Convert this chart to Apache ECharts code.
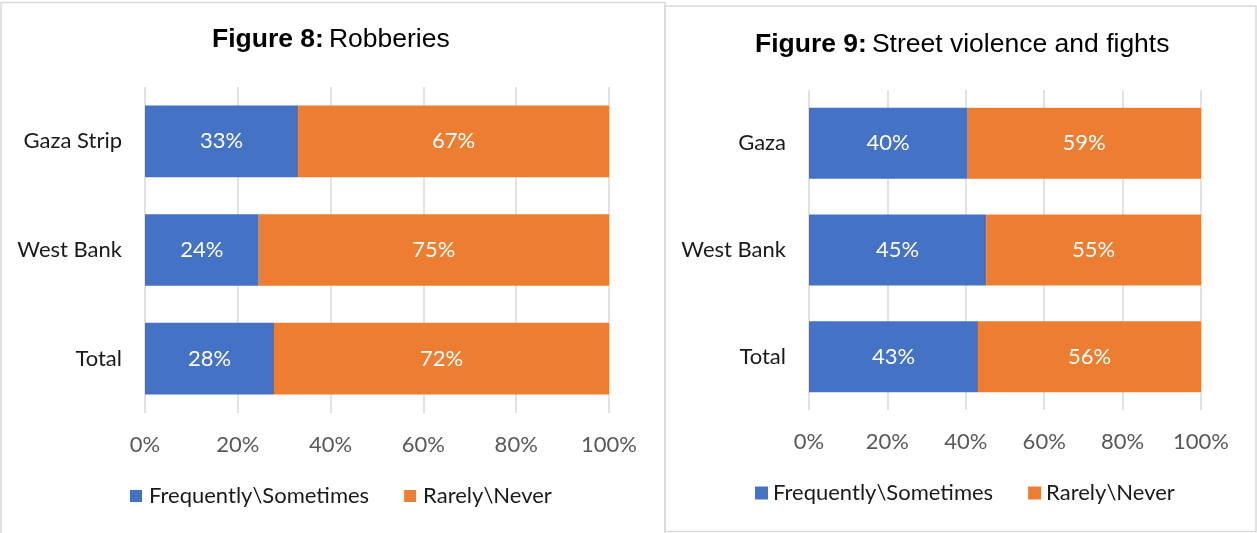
<!DOCTYPE html>
<html>
<head>
    <meta charset="utf-8">
    <title>Figure 8 / Figure 9</title>
    <script src="https://cdn.jsdelivr.net/npm/echarts@6/dist/echarts.min.js"></script>
    <style>
        html, body { margin: 0; padding: 0; background: #fff; }
        #main { width: 1257px; height: 533px; }
    </style>
</head>
<body>
<div id="main"></div>
<script>
    // Figure 8: Robberies
    var cats8 = ['Gaza Strip', 'West Bank', 'Total'];
    var freq8 = [33, 24.5, 27.8];
    var rare8 = [67, 75.5, 72.2];
    var freqLbl8 = [33, 24, 28];
    var rareLbl8 = [67, 75, 72];

    // Figure 9: Street violence and fights
    var cats9 = ['Gaza', 'West Bank', 'Total'];
    var freq9 = [40.3, 45.2, 43.1];
    var rare9 = [59.7, 54.8, 56.9];
    var freqLbl9 = [40, 45, 43];
    var rareLbl9 = [59, 55, 56];

    var seriesNames = ['Frequently\\Sometimes', 'Rarely\\Never'];
    var ticks = [0, 20, 40, 60, 80, 100];

    var BLUE = '#4472C4', ORANGE = '#ED7D31';
    var FONT = 'Lato';
    var FS = 22;

    function valueAxis(idx) {
        return {
            gridIndex: idx, type: 'value', min: 0, max: 100, interval: 20,
            axisLine: { show: false }, axisTick: { show: false },
            splitLine: { lineStyle: { color: '#d9d9d9', width: 1.5 } },
            axisLabel: {
                margin: 21, color: '#595959', fontSize: FS, fontFamily: FONT,
                formatter: function (v) { return ticks.indexOf(v) >= 0 ? v + '%' : ''; }
            }
        };
    }
    function catAxis(idx, cats) {
        return {
            gridIndex: idx, type: 'category', data: cats, inverse: true,
            axisLine: { show: false }, axisTick: { show: false },
            axisLabel: { margin: 23, color: '#1a1a1a', fontSize: FS, fontFamily: FONT }
        };
    }
    function barSeries(name, idx, stack, data, lbls, color, gap) {
        return {
            name: name, type: 'bar', stack: stack,
            xAxisIndex: idx, yAxisIndex: idx,
            data: data, barCategoryGap: gap,
            itemStyle: { color: color },
            label: {
                show: true, position: 'inside', color: '#fff', fontSize: FS, fontFamily: FONT,
                formatter: function (p) { return lbls[p.dataIndex] + '%'; }
            }
        };
    }
    function titleRich() {
        return {
            b: { fontFamily: 'Liberation Sans', fontWeight: 'bold', fontSize: 26.5, color: '#000' },
            n: { fontFamily: 'Liberation Sans', fontWeight: 'normal', fontSize: 26.5, color: '#000' }
        };
    }
    function legendOf(left, top, size, pad) {
        return {
            data: seriesNames, left: left, top: top, itemWidth: size, itemHeight: size, itemGap: 35,
            icon: 'rect', selectedMode: false,
            textStyle: { fontSize: FS, fontFamily: FONT, color: '#1a1a1a', padding: [0, 0, 0, pad] }
        };
    }

    var myChart = echarts.init(document.getElementById('main'));
    var option = {
        animation: false,
        backgroundColor: '#fff',
        graphic: [
            { type: 'rect', shape: { x: 1, y: 2.5, width: 664, height: 540 },
              style: { fill: 'none', stroke: '#d9d9d9', lineWidth: 1.5 } },
            { type: 'rect', shape: { x: 665, y: 6, width: 591, height: 525.5 },
              style: { fill: 'none', stroke: '#d9d9d9', lineWidth: 1.5 } }
        ],
        title: [
            { text: '{b|Figure 8:} {n|Robberies}', left: 207, top: 21,
              textStyle: { fontWeight: 'normal', rich: titleRich() } },
            { text: '{b|Figure 9:} {n|Street violence and fights}', left: 750, top: 26,
              textStyle: { fontWeight: 'normal', rich: titleRich() } }
        ],
        legend: [legendOf(125, 480, 12, 2), legendOf(750, 477, 13, 0)],
        grid: [
            { left: 145, width: 464, top: 87, height: 326 },
            { left: 809, width: 392, top: 90, height: 320 }
        ],
        xAxis: [valueAxis(0), valueAxis(1)],
        yAxis: [catAxis(0, cats8), catAxis(1, cats9)],
        series: [
            barSeries(seriesNames[0], 0, 'a', freq8, freqLbl8, BLUE, '34%'),
            barSeries(seriesNames[1], 0, 'a', rare8, rareLbl8, ORANGE, '34%'),
            barSeries(seriesNames[0], 1, 'b', freq9, freqLbl9, BLUE, '33.5%'),
            barSeries(seriesNames[1], 1, 'b', rare9, rareLbl9, ORANGE, '33.5%')
        ]
    };
    myChart.setOption(option);
</script>
</body>
</html>
